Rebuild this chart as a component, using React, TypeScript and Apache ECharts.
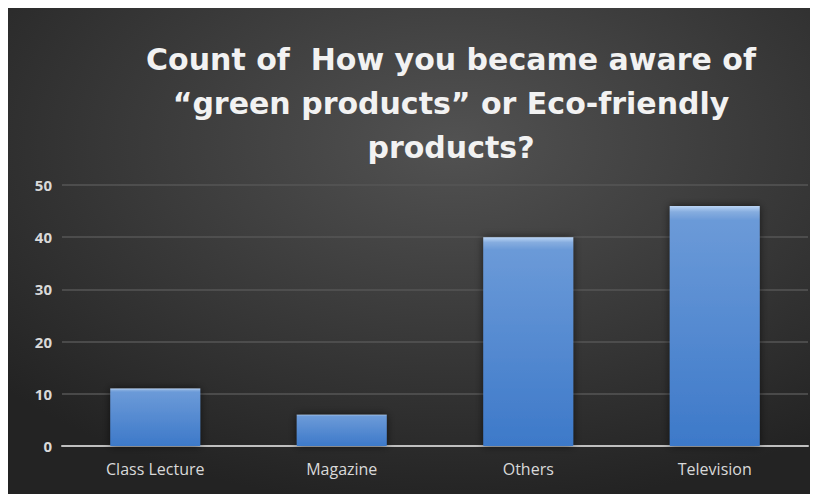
import React, { useEffect, useRef } from "react";
import * as echarts from "echarts";

const categories = ["Class Lecture", "Magazine", "Others", "Television"];
const counts = [11, 6, 40, 46];
const titleLines = [
  "Count of  How you became aware of",
  "\u201cgreen products\u201d or Eco-friendly",
  "products?",
];

export default function App() {
  const ref = useRef<HTMLDivElement>(null);
  useEffect(() => {
    if (!ref.current) return;
    const chart = echarts.init(ref.current, null, { renderer: "svg" });
    chart.setOption({
      animation: false,
      backgroundColor: new echarts.graphic.RadialGradient(0.55, 0.28, 0.75, [
        { offset: 0, color: "#525252" },
        { offset: 1, color: "#232323" },
      ]),
      graphic: [
        {
          type: "text",
          x: 443,
          y: 30,
          style: {
            text: titleLines.join("\n"),
            fill: "#f2f2f2",
            font: "bold 30px 'DejaVu Sans', sans-serif",
            lineHeight: 44,
            textAlign: "center",
            textVerticalAlign: "top",
          },
        },
      ],
      grid: { left: 54, right: 10, top: 178, bottom: 48 },
      xAxis: {
        type: "category",
        data: categories,
        axisLine: { lineStyle: { color: "#bfbfbf", width: 2 } },
        axisTick: { show: false },
        axisLabel: {
          color: "#d9d9d9",
          fontSize: 16,
          fontFamily: "'Open Sans', sans-serif",
          margin: 15,
        },
      },
      yAxis: {
        type: "value",
        min: 0,
        max: 50,
        interval: 10,
        axisLine: { show: false },
        axisTick: { show: false },
        splitLine: { lineStyle: { color: "#565656", width: 1.5 } },
        axisLabel: {
          color: "#d9d9d9",
          fontSize: 15,
          fontWeight: "bold",
          fontFamily: "'Open Sans', sans-serif",
          margin: 10,
        },
      },
      series: [
        {
          type: "bar",
          data: counts,
          barWidth: 90,
          itemStyle: {
            color: new echarts.graphic.LinearGradient(0, 0, 0, 1, [
              { offset: 0, color: "#bcd6f6" },
              { offset: 0.025, color: "#86addf" },
              { offset: 0.06, color: "#6b9ad8" },
              { offset: 1, color: "#3d79c9" },
            ]),
            shadowBlur: 8,
            shadowColor: "rgba(0,0,0,0.6)",
          },
        },
      ],
    });
    return () => chart.dispose();
  }, []);
  return <div ref={ref} style={{ width: 810, height: 487, marginTop: -1 }} />;
}
